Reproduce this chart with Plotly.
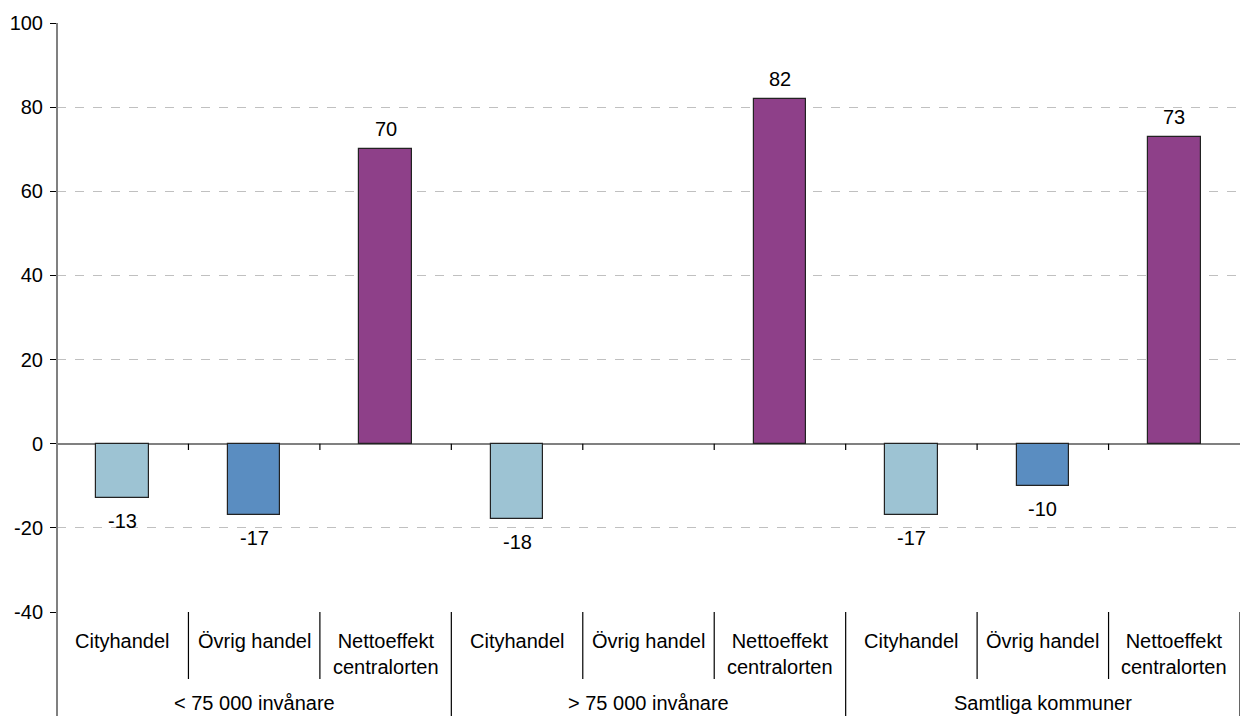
import plotly.graph_objects as go

# Data
groups = ["< 75 000 invånare", "> 75 000 invånare", "Samtliga kommuner"]
subcats = ["Cityhandel", "Övrig handel", "Nettoeffekt<br>centralorten"]
cityhandel = [-13, -18, -17]
ovrig_handel = [-17, None, -10]
nettoeffekt = [70, 82, 73]
y_ticks = [-40, -20, 0, 20, 40, 60, 80, 100]

colors = {"Cityhandel": "#9DC3D3", "Övrig handel": "#5A8DC1", "Nettoeffekt": "#8E4089"}
FONT = "Liberation Sans, Arial, sans-serif"
FS = 20

# Plot geometry (pixels) for converting label offsets into paper units
W, H = 1241, 716
M_L, M_R, M_T, M_B = 57, 1, 23, 104
PH = H - M_T - M_B


def py(pix):
    """Pixel row below the plot bottom -> paper y."""
    return (H - M_B - pix) / PH


fig = go.Figure()
annotations = []
shapes = []

series = [("Cityhandel", cityhandel), ("Övrig handel", ovrig_handel), ("Nettoeffekt", nettoeffekt)]
for s_idx, (name, vals) in enumerate(series):
    xs = [g * 3 + s_idx for g in range(len(groups))]
    fig.add_trace(go.Bar(
        x=xs, y=vals, name=name, width=0.4,
        marker=dict(color=colors[name], line=dict(color="#222222", width=1.2)),
        showlegend=False,
    ))
    # value labels beyond the bar ends
    for x, v in zip(xs, vals):
        if v is None:
            continue
        annotations.append(dict(
            x=x, y=v, xref="x", yref="y", text=str(v), showarrow=False,
            xanchor="center", yanchor="bottom" if v >= 0 else "top",
            yshift=7 if v >= 0 else -10,
            font=dict(family=FONT, size=FS, color="#000000"),
        ))

n = len(groups) * len(subcats)

# Category labels
for g, grp in enumerate(groups):
    for s, sub in enumerate(subcats):
        x = g * 3 + s
        two_line = "<br>" in sub
        annotations.append(dict(
            x=x, xref="x", y=py(654 if two_line else 641), yref="paper",
            text=sub, showarrow=False, yanchor="middle", xanchor="center",
            font=dict(family=FONT, size=FS, color="#000000"),
        ))
    annotations.append(dict(
        x=g * 3 + 1, xref="x", y=py(703), yref="paper",
        text=grp, showarrow=False, yanchor="middle", xanchor="center",
        font=dict(family=FONT, size=FS, color="#000000"),
    ))

# Separators in the category label area
for b in range(1, n + 1):
    xb = b - 0.5
    long = (b % 3 == 0)
    shapes.append(dict(
        type="line", xref="x", yref="paper", x0=xb, x1=xb,
        y0=0, y1=py(716 if long else 679),
        line=dict(color="#000000", width=1.2),
    ))
    if b < n:
        # tick marks on the zero line
        shapes.append(dict(
            type="line", xref="x", yref="y", x0=xb, x1=xb,
            y0=0, y1=-1.5, line=dict(color="#000000", width=1.2),
        ))

# Left axis line extended through the label area
shapes.append(dict(
    type="line", xref="paper", yref="paper", x0=0, x1=0,
    y0=1, y1=py(716), line=dict(color="#808080", width=2),
))

fig.update_layout(
    width=W, height=H,
    margin=dict(l=M_L, r=M_R, t=M_T, b=M_B, pad=0),
    plot_bgcolor="#FFFFFF", paper_bgcolor="#FFFFFF",
    bargap=0,
    annotations=annotations,
    shapes=shapes,
    font=dict(family=FONT, size=FS, color="#000000"),
)
fig.update_xaxes(
    range=[-0.5, n - 0.5], showticklabels=False, showgrid=False,
    zeroline=False, showline=False, ticks="",
)
fig.update_yaxes(
    range=[-40, 100],
    tickvals=y_ticks, ticktext=[str(t) for t in y_ticks],
    showgrid=True, gridcolor="#C0C0C0", griddash="dash", gridwidth=1,
    zeroline=True, zerolinecolor="#808080", zerolinewidth=1.5,
    showline=False,
    ticks="outside", ticklen=6, tickcolor="#000000", tickwidth=1,
    ticklabelstandoff=3,
    tickfont=dict(family=FONT, size=FS, color="#000000"),
)

fig.write_html("out.html")
